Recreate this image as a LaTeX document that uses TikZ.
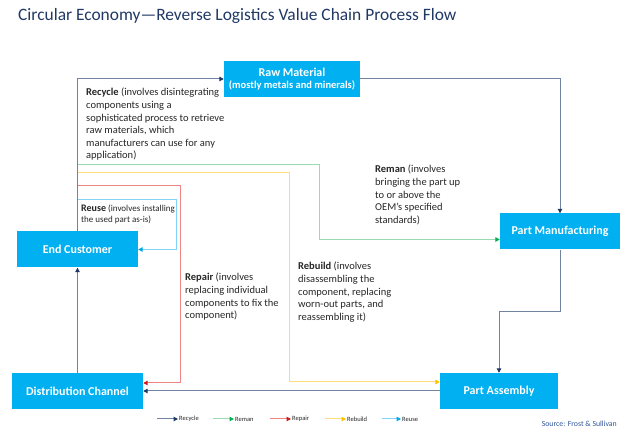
\documentclass[tikz,border=0pt]{standalone}
\usepackage{fontspec}
\setmainfont{Carlito}
\usetikzlibrary{positioning}
\usetikzlibrary{arrows.meta}

\definecolor{stageblue}{HTML}{00B0F0}
\definecolor{titlenavy}{HTML}{1F3864}
\definecolor{notegray}{HTML}{262626}
\definecolor{sourceblue}{HTML}{2F5597}
\definecolor{recycleline}{HTML}{7083A0}
\definecolor{recycletip}{HTML}{1F3864}
\definecolor{remanline}{HTML}{9ADBB2}
\definecolor{remantip}{HTML}{00B050}
\definecolor{repairline}{HTML}{EE8585}
\definecolor{repairtip}{HTML}{D01818}
\definecolor{rebuildline}{HTML}{FFDC7A}
\definecolor{rebuildtip}{HTML}{FFC000}
\definecolor{reuseline}{HTML}{80D4F6}
\definecolor{reusetip}{HTML}{00A8EC}

\tikzstyle{every stage} = []
\tikzstyle{stage} = [rectangle, fill=stageblue, text=white, align=center, inner sep=0pt,
    minimum height=36pt, font=\bfseries\fontsize{12}{13}\selectfont, every stage]
\tikzstyle{note} = [anchor=north west, align=left, inner sep=0pt, text=notegray,
    font=\fontsize{10.5}{12.6}\selectfont]
\tikzstyle{legendtext} = [anchor=west, inner sep=1pt, text=notegray, font=\fontsize{6.5}{7}\selectfont]
\tikzstyle{flow} = [line width=1pt]
\tikzstyle{recycle} = [flow, draw=recycleline, -{Triangle[length=4.5pt, width=4.5pt, color=recycletip]}]
\tikzstyle{reman} = [flow, draw=remanline, -{Triangle[length=4.5pt, width=4.5pt, color=remantip]}]
\tikzstyle{repair} = [flow, draw=repairline, -{Triangle[length=4.5pt, width=4.5pt, color=repairtip]}]
\tikzstyle{rebuild} = [flow, draw=rebuildline, -{Triangle[length=4.5pt, width=4.5pt, color=rebuildtip]}]
\tikzstyle{reuse} = [flow, draw=reuseline, -{Triangle[length=4.5pt, width=4.5pt, color=reusetip]}]

\begin{document}
\begin{tikzpicture}[x=1pt, y=-1pt]
        \useasboundingbox (0,0) rectangle (630,430);

        \node[anchor=west, inner sep=0pt, text=titlenavy, font=\fontsize{17.4}{20}\selectfont] (title) at (18,16)
            {Circular Economy—Reverse Logistics Value Chain Process Flow};

        \node[stage, minimum width=136pt] (rawmat) at (292,79)
            {Raw Material\\[-1pt]{\fontsize{10.5}{11}\selectfont (mostly metals and minerals)}};
        \node[stage, minimum width=121pt] (endcust) at (77.5,249.5) {End Customer};
        \node[stage, minimum width=120pt] (partmfg) at (560,231.5) {Part Manufacturing};
        \node[stage, minimum width=131pt] (distch) at (77.5,391) {Distribution Channel};
        \node[stage, minimum width=118pt] (partasm) at (499,391) {Part Assembly};

        % recycle loop
        \coordinate (mfgturn) at (560,312);
        \draw[recycle] (endcust.north) |- (rawmat.west);
        \draw[recycle] (rawmat.east) -| (partmfg.north);
        \draw[recycle] (partmfg.south) -- (mfgturn) -| (partasm.north);
        \draw[recycle] (partasm.west) -- (distch.east);
        \draw[recycle] (distch.north) -- (endcust.south);

        % branches off the return line
        \coordinate (remanstart) at (77.5,165);
        \coordinate (remanturn) at (319,165);
        \coordinate (rebuildstart) at (77.5,173);
        \coordinate (rebuildturn) at (289,173);
        \coordinate (repairstart) at (77.5,186);
        \coordinate (repairturn) at (180,186);
        \coordinate (reusestart) at (77.5,200);
        \coordinate (reuseturn) at (176,200);

        \draw[reman] (remanstart) -- (remanturn) |- ([yshift=-8pt]partmfg.west);
        \draw[rebuild] (rebuildstart) -- (rebuildturn) |- ([yshift=9pt]partasm.west);
        \draw[repair] (repairstart) -- (repairturn) |- ([yshift=8pt]distch.east);
        \draw[reuse] (reusestart) -- (reuseturn) |- (endcust.east);

        \node[note] (recyclenote) at (86,88) {\textbf{Recycle} (involves disintegrating\\components using a\\sophisticated process to retrieve\\raw materials, which\\manufacturers can use for any\\application)};
        \node[note] (remannote) at (375,165) {\textbf{Reman} (involves\\bringing the part up\\to or above the\\OEM's specified\\standards)};
        \node[note, font=\fontsize{9}{11}\selectfont] (reusenote) at (81,205) {{\fontsize{10}{11}\selectfont\bfseries Reuse} (involves installing\\the used part as-is)};
        \node[note] (repairnote) at (185,273) {\textbf{Repair} (involves\\replacing individual\\components to fix the\\component)};
        \node[note] (rebuildnote) at (298,262) {\textbf{Rebuild} (involves\\disassembling the\\component, replacing\\worn-out parts, and\\reassembling it)};

        % legend
        \coordinate (lgrecyclestart) at (157,419);
        \coordinate (lgremanstart) at (213,419);
        \coordinate (lgrepairstart) at (270,419);
        \coordinate (lgrebuildstart) at (325,419);
        \coordinate (lgreusestart) at (382,419);
        \node[legendtext] (lgrecycle) at (178,419) {Recycle};
        \node[legendtext] (lgreman) at (234,419) {Reman};
        \node[legendtext] (lgrepair) at (291,419) {Repair};
        \node[legendtext] (lgrebuild) at (346,419) {Rebuild};
        \node[legendtext] (lgreuse) at (401,419) {Reuse};
        \draw[recycle] (lgrecyclestart) -- (lgrecycle.west);
        \draw[reman] (lgremanstart) -- (lgreman.west);
        \draw[repair] (lgrepairstart) -- (lgrepair.west);
        \draw[rebuild] (lgrebuildstart) -- (lgrebuild.west);
        \draw[reuse] (lgreusestart) -- (lgreuse.west);

        \node[anchor=east, inner sep=0pt, text=sourceblue, font=\fontsize{7.8}{9}\selectfont] (source) at (617,424) {Source: Frost \& Sullivan};
\end{tikzpicture}
\end{document}
